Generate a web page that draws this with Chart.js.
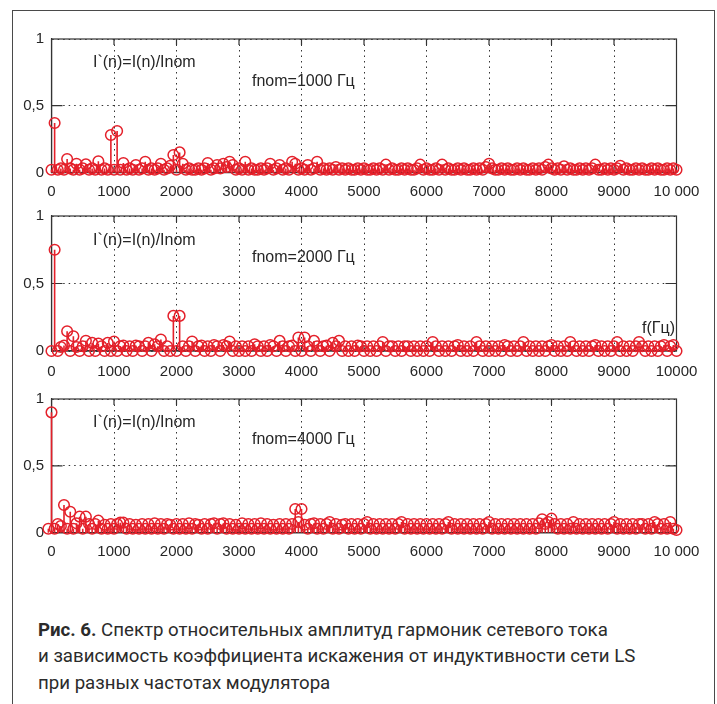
<!DOCTYPE html>
<html>
<head>
<meta charset="utf-8">
<script src="https://cdn.jsdelivr.net/npm/chart.js@4/dist/chart.umd.min.js"></script>
<style>
  html, body { margin: 0; padding: 0; background: #fff; }
  body { width: 717px; height: 704px; position: relative; overflow: hidden; }
  .frame { position: absolute; left: 12px; top: 10px; width: 703px; height: 760px;
           border: 1.5px solid #4a4a4a; box-sizing: border-box; }
  canvas { position: absolute; left: 0; }
  .caption { position: absolute; left: 38px; top: 616.6px; color: #2b2b2b;
             font-family: Roboto, "Noto Sans", "DejaVu Sans", sans-serif; font-size: 19px; }
  .caption div { white-space: nowrap; line-height: 26.7px; transform-origin: 0 50%; }
  .caption span { display: inline-block; }
  .caption b { font-weight: 700; }
</style>
</head>
<body>
<div class="frame"></div>
<canvas id="p1"></canvas>
<canvas id="p2"></canvas>
<canvas id="p3"></canvas>
<div class="caption" id="caption">
  <div><span><b>Рис. 6.</b> Спектр относительных амплитуд гармоник сетевого тока</span></div>
  <div><span>и зависимость коэффициента искажения от индуктивности сети LS</span></div>
  <div><span>при разных частотах модулятора</span></div>
</div>
<script>
// Harmonic frequencies, Hz (50 Hz grid, 0 … 10 000 Hz)
const harmonicFreqs = [];
for (let k = 0; k <= 200; k++) harmonicFreqs.push(k * 50);
// the fnom = 4000 Hz spectrum is stored one bin earlier (starts at −50 Hz)
const harmonicFreqsShifted = [-50].concat(harmonicFreqs.slice(0, 200)).concat([10000]);

// Relative amplitudes I`(n) = I(n)/Inom, one row per 1000 Hz
const amp1000 = [
  0.02,0.37,0.02,0.03,0.02,0.10,0.03,0.02,0.065,0.02, 0.03,0.06,0.02,0.03,0.02,0.083,0.02,0.03,0.02,0.28,
  0.02,0.31,0.02,0.07,0.02,0.03,0.02,0.055,0.02,0.03, 0.08,0.02,0.03,0.02,0.03,0.065,0.02,0.03,0.05,0.13,
  0.02,0.15,0.065,0.02,0.03,0.02,0.02,0.03,0.02,0.03, 0.07,0.02,0.03,0.055,0.03,0.065,0.04,0.08,0.055,0.02,
  0.03,0.02,0.08,0.02,0.03,0.02,0.02,0.03,0.02,0.03, 0.065,0.02,0.03,0.055,0.02,0.03,0.02,0.08,0.065,0.02,
  0.03,0.02,0.055,0.02,0.03,0.08,0.02,0.03,0.02,0.03, 0.02,0.04,0.02,0.03,0.02,0.03,0.02,0.02,0.03,0.02,
  0.03,0.02,0.02,0.03,0.02,0.03,0.02,0.058,0.02,0.03, 0.02,0.02,0.03,0.02,0.03,0.02,0.02,0.03,0.058,0.02,
  0.03,0.02,0.02,0.03,0.02,0.058,0.02,0.03,0.02,0.02, 0.03,0.02,0.03,0.02,0.02,0.03,0.02,0.03,0.02,0.04,
  0.065,0.03,0.02,0.02,0.03,0.02,0.03,0.02,0.02,0.03, 0.02,0.03,0.02,0.02,0.03,0.02,0.03,0.02,0.04,0.058,
  0.03,0.02,0.03,0.02,0.045,0.02,0.03,0.02,0.02,0.03, 0.02,0.03,0.02,0.03,0.058,0.02,0.02,0.03,0.02,0.03,
  0.02,0.03,0.05,0.02,0.03,0.02,0.02,0.03,0.02,0.03, 0.02,0.02,0.03,0.02,0.03,0.02,0.02,0.03,0.02,0.03,
  0.02
];
const amp2000 = [
  0.0,0.75,0.0,0.03,0.04,0.146,0.0,0.109,0.03,0.0, 0.035,0.076,0.0,0.06,0.0,0.055,0.035,0.0,0.06,0.0,
  0.07,0.0,0.035,0.04,0.0,0.035,0.0,0.04,0.035,0.0, 0.035,0.06,0.0,0.05,0.035,0.085,0.0,0.035,0.0,0.26,
  0.0,0.26,0.035,0.0,0.035,0.07,0.0,0.035,0.04,0.0, 0.035,0.0,0.045,0.035,0.0,0.045,0.035,0.07,0.0,0.035,
  0.0,0.035,0.0,0.035,0.0,0.05,0.035,0.0,0.035,0.0, 0.045,0.035,0.0,0.075,0.035,0.0,0.035,0.04,0.0,0.10,
  0.0,0.10,0.035,0.0,0.075,0.035,0.0,0.035,0.04,0.0, 0.06,0.035,0.075,0.0,0.035,0.0,0.035,0.0,0.04,0.035,
  0.0,0.035,0.0,0.035,0.0,0.035,0.067,0.0,0.035,0.035, 0.0,0.035,0.0,0.035,0.035,0.0,0.035,0.0,0.035,0.0,
  0.035,0.0,0.067,0.035,0.0,0.035,0.0,0.035,0.0,0.035, 0.045,0.0,0.035,0.0,0.035,0.0,0.067,0.035,0.0,0.035,
  0.0,0.035,0.0,0.035,0.0,0.045,0.035,0.0,0.035,0.0, 0.035,0.067,0.0,0.035,0.0,0.035,0.0,0.035,0.0,0.035,
  0.045,0.0,0.035,0.0,0.035,0.0,0.067,0.035,0.0,0.035, 0.0,0.035,0.0,0.035,0.045,0.0,0.035,0.0,0.035,0.0,
  0.035,0.067,0.0,0.035,0.0,0.035,0.0,0.035,0.067,0.035, 0.0,0.035,0.0,0.035,0.0,0.035,0.045,0.0,0.035,0.045,
  0.0
];
const amp4000 = [
  0.03,
  0.90,0.03,0.065,0.05,0.207,0.03,0.157,0.03,0.07,0.12, 0.03,0.12,0.065,0.03,0.065,0.09,0.03,0.06,0.03,0.065,
  0.03,0.065,0.075,0.075,0.03,0.065,0.03,0.06,0.03,0.065, 0.03,0.065,0.03,0.07,0.03,0.065,0.03,0.065,0.06,0.03,
  0.065,0.03,0.065,0.03,0.07,0.03,0.065,0.06,0.03,0.065, 0.03,0.065,0.07,0.03,0.065,0.07,0.03,0.065,0.03,0.06,
  0.03,0.07,0.03,0.065,0.03,0.065,0.03,0.07,0.03,0.065, 0.03,0.06,0.03,0.065,0.03,0.065,0.03,0.065,0.177,0.08,
  0.177,0.06,0.03,0.065,0.07,0.03,0.065,0.03,0.065,0.08, 0.03,0.065,0.03,0.06,0.065,0.03,0.065,0.03,0.065,0.03,
  0.065,0.08,0.03,0.065,0.03,0.065,0.03,0.065,0.03,0.065, 0.03,0.065,0.08,0.03,0.065,0.03,0.065,0.03,0.065,0.03,
  0.065,0.03,0.065,0.03,0.065,0.03,0.065,0.08,0.03,0.065, 0.03,0.065,0.03,0.065,0.03,0.065,0.03,0.065,0.03,0.065,
  0.08,0.03,0.065,0.03,0.065,0.03,0.065,0.03,0.065,0.03, 0.065,0.03,0.065,0.03,0.065,0.03,0.07,0.10,0.065,0.08,
  0.105,0.065,0.03,0.065,0.03,0.065,0.03,0.08,0.03,0.065, 0.03,0.065,0.03,0.065,0.03,0.065,0.03,0.065,0.03,0.065,
  0.08,0.03,0.065,0.03,0.065,0.03,0.065,0.03,0.065,0.065, 0.03,0.065,0.03,0.08,0.065,0.03,0.065,0.03,0.08,0.03,
  0.02
];

// Axis ticks
const xTickValues = [0,1000,2000,3000,4000,5000,6000,7000,8000,9000,10000];
const xTickLabelsSpaced = ['0','1000','2000','3000','4000','5000','6000','7000','8000','9000','10 000'];
const xTickLabelsPlain  = ['0','1000','2000','3000','4000','5000','6000','7000','8000','9000','10000'];
const yTickValues = [0, 0.5, 1];
const yTickLabels = ['0', '0,5', '1'];

// Annotation texts
const ratioText = 'I`(n)=I(n)/Inom';
const unitText = 'f(Гц)';

const RED = '#e4202a';
const INK = '#262626';
const LABEL_FONT = '"Liberation Sans", Arial, Helvetica, sans-serif';

const PLOT_LEFT = 51.5, PLOT_RIGHT = 676.5, TOP_GAP = 20, AXIS_H = 36;

const panels = [
  { id: 'p1', plotTop: 39.3, plotBottom: 172.7, freqs: harmonicFreqs, values: amp1000,
    note: 'fnom=1000 Гц', xLabels: xTickLabelsSpaced, labelPad: 10,
    ratioAt: [664, 0.822], noteAt: [3208, 0.68], unitAt: null },
  { id: 'p2', plotTop: 216, plotBottom: 351, freqs: harmonicFreqs, values: amp2000,
    note: 'fnom=2000 Гц', xLabels: xTickLabelsPlain, labelPad: 12,
    ratioAt: [664, 0.817], noteAt: [3208, 0.689], unitAt: [9976, 0.168] },
  { id: 'p3', plotTop: 399, plotBottom: 532.7, freqs: harmonicFreqsShifted, values: amp4000,
    note: 'fnom=4000 Гц', xLabels: xTickLabelsSpaced, labelPad: 10,
    ratioAt: [664, 0.823], noteAt: [3208, 0.70], unitAt: null }
];

// Plot box with inward tick marks (drawn under the markers)
const boxPlugin = {
  id: 'box',
  beforeDatasetsDraw(chart) {
    const { ctx, chartArea: a, scales: { x, y } } = chart;
    ctx.save();
    ctx.strokeStyle = '#333';
    ctx.lineWidth = 1.2;
    ctx.strokeRect(a.left, a.top, a.right - a.left, a.bottom - a.top);
    ctx.beginPath();
    xTickValues.slice(1, -1).forEach(v => {
      const px = x.getPixelForValue(v);
      ctx.moveTo(px, a.top); ctx.lineTo(px, a.top + 6);
      ctx.moveTo(px, a.bottom); ctx.lineTo(px, a.bottom - 6);
    });
    const py = y.getPixelForValue(0.5);
    ctx.moveTo(a.left, py); ctx.lineTo(a.left + 11, py);
    ctx.moveTo(a.right - 11, py); ctx.lineTo(a.right, py);
    ctx.stroke();
    ctx.restore();
  }
};

// Stems from zero up to each marker
const stemPlugin = {
  id: 'stems',
  beforeDatasetsDraw(chart) {
    const { ctx, scales: { y } } = chart;
    const y0 = y.getPixelForValue(0);
    ctx.save();
    ctx.strokeStyle = RED;
    ctx.lineWidth = 1.6;
    ctx.beginPath();
    chart.getDatasetMeta(0).data.forEach(pt => {
      ctx.moveTo(pt.x, y0);
      ctx.lineTo(pt.x, pt.y);
    });
    ctx.stroke();
    ctx.restore();
  }
};

// Text annotations placed in data coordinates
const notePlugin = {
  id: 'notes',
  afterDatasetsDraw(chart, args, opts) {
    const { ctx, scales: { x, y } } = chart;
    const p = opts.panel;
    ctx.save();
    ctx.fillStyle = INK;
    ctx.font = '16px ' + LABEL_FONT;
    ctx.textBaseline = 'middle';
    ctx.textAlign = 'left';
    ctx.fillText(ratioText, x.getPixelForValue(p.ratioAt[0]), y.getPixelForValue(p.ratioAt[1]));
    ctx.fillText(p.note, x.getPixelForValue(p.noteAt[0]), y.getPixelForValue(p.noteAt[1]));
    if (p.unitAt) {
      ctx.textAlign = 'right';
      ctx.fillText(unitText, x.getPixelForValue(p.unitAt[0]), y.getPixelForValue(p.unitAt[1]));
    }
    ctx.restore();
  }
};

panels.forEach(p => {
  const cv = document.getElementById(p.id);
  const h = (p.plotBottom - p.plotTop) + TOP_GAP + AXIS_H;
  cv.width = 717; cv.height = Math.ceil(h);
  cv.style.width = '717px'; cv.style.height = Math.ceil(h) + 'px';
  cv.style.top = (p.plotTop - TOP_GAP) + 'px';
  const bottomPad = Math.ceil(h) - h;

  new Chart(cv.getContext('2d'), {
    type: 'scatter',
    data: {
      datasets: [{
        data: p.freqs.map((f, i) => ({ x: f, y: p.values[i] })),
        pointStyle: 'circle',
        pointRadius: 5.3,
        pointHoverRadius: 5.3,
        pointBorderWidth: 1.5,
        borderColor: RED,
        backgroundColor: 'rgba(0,0,0,0)',
        showLine: false,
        clip: false
      }]
    },
    options: {
      responsive: false,
      animation: false,
      devicePixelRatio: 1,
      events: [],
      layout: { padding: { top: TOP_GAP, right: 717 - PLOT_RIGHT, left: 0, bottom: bottomPad } },
      plugins: { legend: { display: false }, tooltip: { enabled: false }, notes: { panel: p } },
      scales: {
        x: {
          type: 'linear', min: 0, max: 10000,
          afterBuildTicks: s => { s.ticks = xTickValues.map(v => ({ value: v })); },
          afterFit: s => { s.height = AXIS_H; },
          ticks: {
            autoSkip: false, maxRotation: 0, padding: p.labelPad, color: INK,
            font: { family: LABEL_FONT, size: 15 },
            callback: (v, i) => p.xLabels[i]
          },
          grid: { color: '#333', lineWidth: 1, drawTicks: false },
          border: { display: true, color: '#333', width: 1.2, dash: [1.5, 4] }
        },
        y: {
          min: 0, max: 1,
          afterBuildTicks: s => { s.ticks = yTickValues.map(v => ({ value: v })); },
          afterFit: s => { s.width = PLOT_LEFT; },
          ticks: {
            padding: 7.5, color: INK,
            font: { family: LABEL_FONT, size: 15 },
            callback: (v, i) => yTickLabels[i]
          },
          grid: { color: '#333', lineWidth: 1, drawTicks: false },
          border: { display: true, color: '#333', width: 1.2, dash: [1.5, 4] }
        }
      }
    },
    plugins: [boxPlugin, stemPlugin, notePlugin]
  });
});

// Caption set in a narrow face: squeeze to the column width
(function () {
  const lines = document.querySelectorAll('#caption div');
  const first = lines[0].querySelector('span');
  const target = 570;
  const s = target / first.getBoundingClientRect().width;
  lines.forEach(l => { l.style.transform = 'scaleX(' + s.toFixed(3) + ')'; });
})();
</script>
</body>
</html>
